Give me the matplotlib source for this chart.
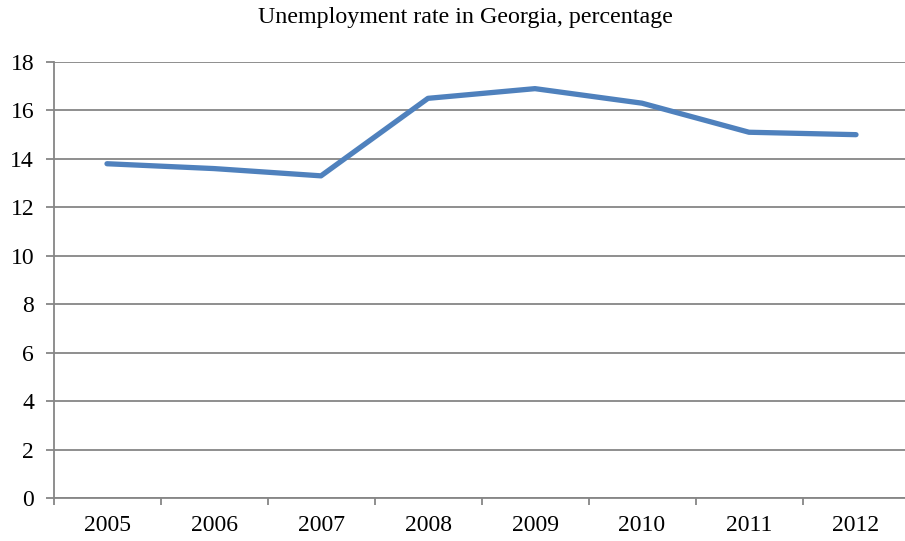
import matplotlib
matplotlib.use("Agg")
import matplotlib.pyplot as plt
import numpy as np

# data
years = ["2005", "2006", "2007", "2008", "2009", "2010", "2011", "2012"]
rate = [13.8, 13.6, 13.3, 16.5, 16.9, 16.3, 15.1, 15.0]
y_ticks = [0, 2, 4, 6, 8, 10, 12, 14, 16, 18]

plt.rcParams['font.family'] = ['Liberation Serif', 'DejaVu Serif']

fig = plt.figure(figsize=(9.05, 5.41), dpi=100)
ax = fig.add_axes([53.5 / 905, 43 / 541, 856 / 905, 436 / 541])

x = np.arange(len(years))
ax.plot(x, rate, color="#4F81BD", linewidth=3.8, solid_capstyle="round",
        solid_joinstyle="round", zorder=3)

ax.set_xlim(-0.5, len(years) - 0.5)
ax.set_ylim(0, 18)
ax.set_yticks(y_ticks)
ax.set_yticklabels([str(v) for v in y_ticks])
ax.yaxis.grid(True, color="#868686", linewidth=1.3)
ax.set_axisbelow(True)

# category labels centred, tick marks between categories
ax.set_xticks(np.arange(len(years) + 1) - 0.5)
ax.set_xticklabels([])
ax.set_xticks(x, minor=True)
ax.set_xticklabels(years, minor=True)
ax.tick_params(axis="x", which="minor", length=0, pad=12, labelsize=17)
ax.tick_params(axis="x", which="major", length=5, color="#868686", width=1.3, direction="out")
ax.tick_params(axis="y", length=6, color="#868686", width=1.3, labelsize=17, pad=8)

for s in ["top", "right"]:
    ax.spines[s].set_visible(False)
for s in ["left", "bottom"]:
    ax.spines[s].set_color("#868686")
    ax.spines[s].set_linewidth(1.3)

fig.text(465 / 905, 1 - 17 / 541, "Unemployment rate in Georgia, percentage",
         ha="center", va="center", fontsize=17.3)

fig.savefig("out.png", dpi=100)
